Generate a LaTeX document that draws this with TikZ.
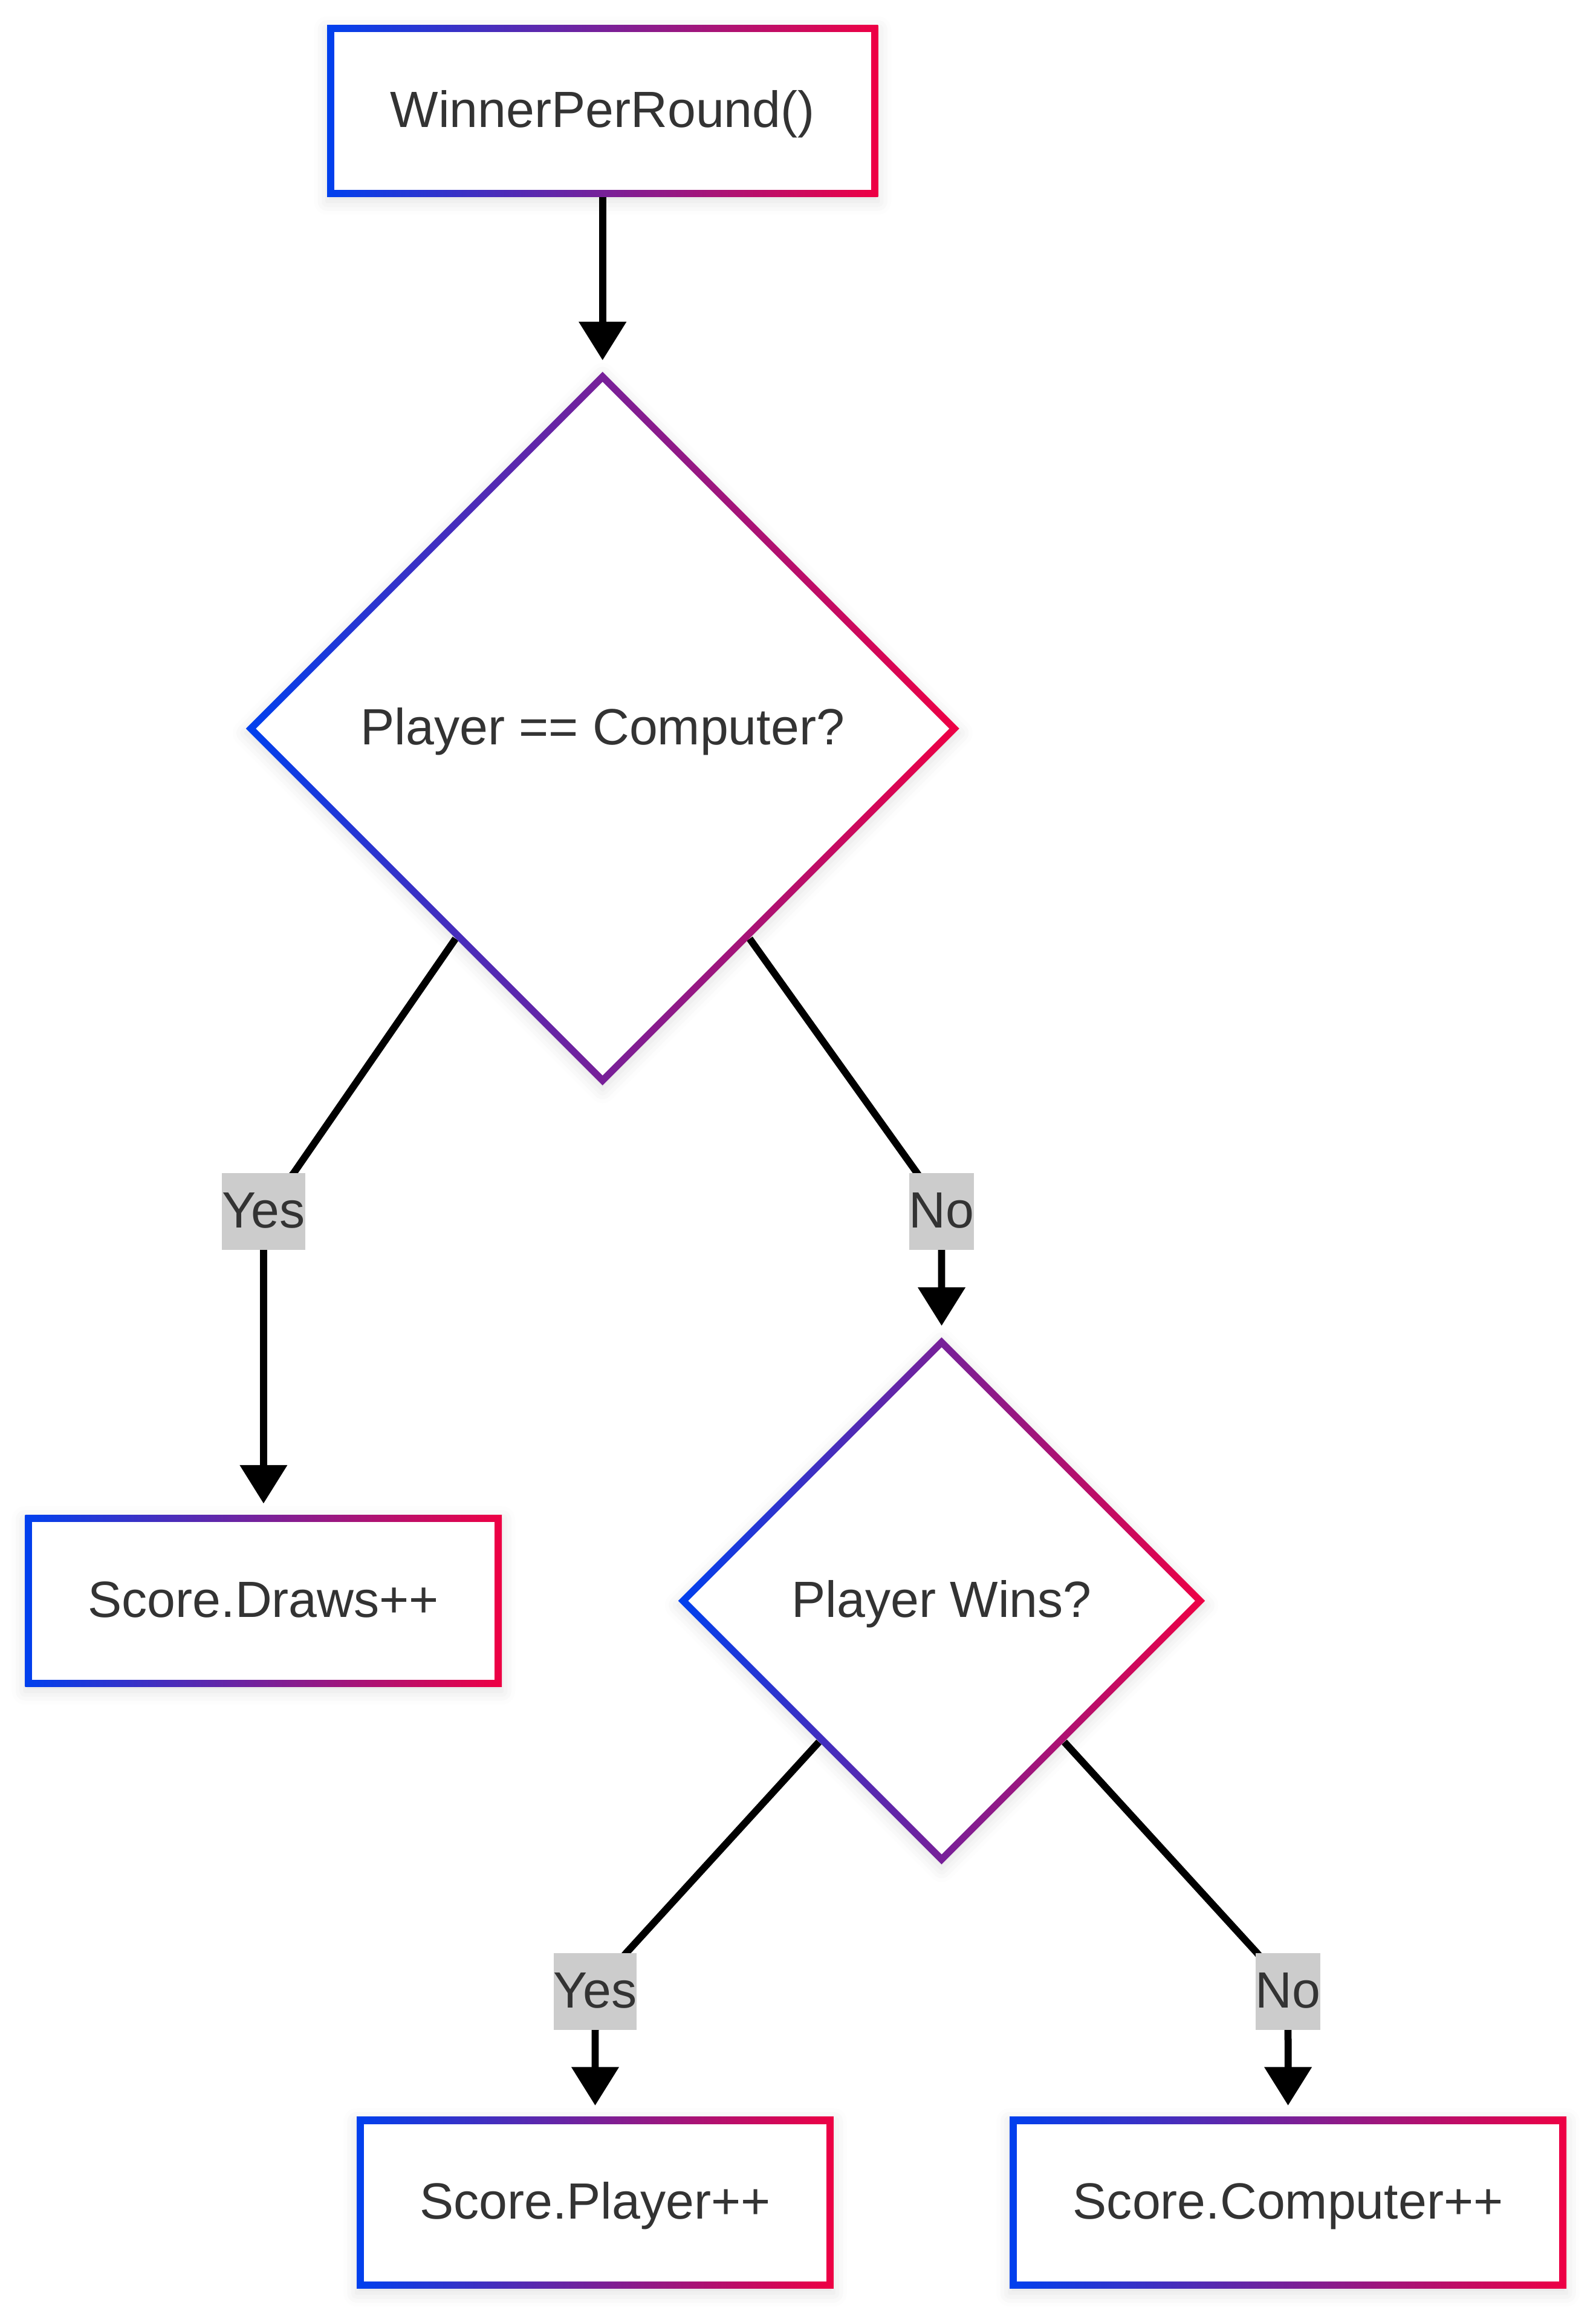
\documentclass[tikz,border=0pt]{standalone}
\usepackage{fontspec}
\setmainfont{Liberation Sans}
\usetikzlibrary{shapes.geometric}
\usetikzlibrary{arrows.meta,calc,backgrounds}
\usetikzlibrary{shadows.blur}
\definecolor{gblue}{HTML}{0040EE}
\definecolor{gred}{HTML}{EE0044}
\definecolor{txt}{HTML}{333333}
\definecolor{lblgray}{HTML}{CCCCCC}
\newcommand{\nodefont}{\fontsize{34.4pt}{41pt}\selectfont}
\tikzstyle{every node}=[font=\nodefont,text=txt,text height=24.7pt,text depth=2.8pt]
\tikzstyle{grad}=[left color=gblue,right color=gred,draw=none,inner sep=0pt,
  blur shadow={shadow xshift=0pt,shadow yshift=-3pt,shadow blur radius=9pt,shadow opacity=12}]
\tikzstyle{gradbox}=[grad,rectangle,minimum height=116pt]
\tikzstyle{whitebox}=[rectangle,fill=white,inner sep=0pt,minimum height=106.4pt]
\tikzstyle{graddiam}=[grad,diamond,aspect=1]
\tikzstyle{whitediam}=[diamond,aspect=1,fill=white,inner sep=0pt]
\tikzstyle{lbl}=[fill=lblgray,inner xsep=0pt,inner ysep=0pt,minimum height=51.7pt]
\tikzstyle{arr}=[line width=4.8pt,draw=black,-{Triangle[width=31pt,length=26pt]},shorten >=7.5pt]
%блок с градиентной рамкой
\newcommand{\gbox}[4]{%
\node[gradbox,minimum width=#3] (#1) at #2 {};
\node[whitebox,minimum width=#3-9.6pt] (#1-in) at (#1) {#4};}
%ромб с градиентной рамкой
\newcommand{\gdiam}[4]{%
\node[graddiam,minimum width=#3,minimum height=#3] (#1) at #2 {};
\node[whitediam,minimum width=#3-13.6pt,minimum height=#3-13.6pt] (#1-in) at (#1) {#4};}

\begin{document}
\begin{tikzpicture}[x=1pt,y=-1pt]
\useasboundingbox (0,0) rectangle (1078,1568);
%блоки
\gbox{start}{(407,75)}{372pt}{WinnerPerRound()}
\gdiam{eq}{(407,492)}{482pt}{Player == Computer?}
\gbox{draws}{(178,1081)}{322pt}{Score.Draws++}
\gdiam{wins}{(636,1081)}{356pt}{Player Wins?}
\gbox{player}{(402,1487.5)}{322pt}{Score.Player++}
\gbox{comp}{(870,1487.5)}{376pt}{Score.Computer++}
%подписи
\node[lbl] (yes1) at (178,818) {Yes};
\node[lbl] (no1) at (636,818) {No};
\node[lbl] (yes2) at (402,1344.8) {Yes};
\node[lbl] (no2) at (870,1344.8) {No};
%стрелки
\begin{scope}[on background layer]
\draw[arr] (start.south) -- (eq.north);
\draw[arr] (eq.235) -- ($(yes1.north)+(20.5,0)$)
  .. controls (yes1.center) .. ($(yes1.south)+(0,16)$) -- (draws.north);
\draw[arr] (eq.-55) -- ($(no1.north)+(-16.7,0)$)
  .. controls (no1.center) .. ($(no1.south)+(0,14)$) -- (wins.north);
\draw[arr] (wins.229) -- ($(yes2.north)+(21,0)$)
  .. controls (yes2.center) .. ($(yes2.south)+(0,14)$) -- (player.north);
\draw[arr] (wins.-49) -- ($(no2.north)+(-21,0)$)
  .. controls (no2.center) .. ($(no2.south)+(0,14)$) -- (comp.north);
\end{scope}
\end{tikzpicture}
\end{document}
